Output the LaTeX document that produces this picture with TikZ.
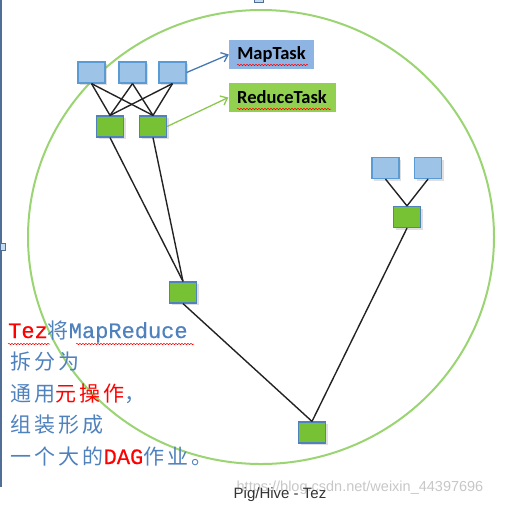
\documentclass[tikz,border=0pt]{standalone}
\usepackage{fontspec}
\setmainfont{Liberation Serif}
\newfontfamily\cjkf{Noto Sans CJK SC}[LetterSpace=15]
\newfontfamily\serf{Liberation Mono}[FakeBold=0.4]
\newfontfamily\lblf{Carlito}
\newfontfamily\capf{Liberation Sans}
\usetikzlibrary{positioning,arrows.meta,shadows,decorations.pathmorphing}
\definecolor{mapfill}{RGB}{157,195,230}
\definecolor{mapline}{RGB}{91,155,213}
\definecolor{rdcfill}{RGB}{118,194,52}
\definecolor{rdcline}{RGB}{79,129,189}
\definecolor{maplbl}{RGB}{141,180,226}
\definecolor{rdclbl}{RGB}{146,208,80}
\definecolor{ringgreen}{RGB}{155,212,115}
\definecolor{edgegray}{RGB}{35,35,35}
\definecolor{txtblue}{RGB}{79,129,189}
\definecolor{txtred}{RGB}{255,0,0}
\definecolor{arrblue}{RGB}{70,120,180}
\definecolor{arrgreen}{RGB}{140,200,80}
\definecolor{framecol}{RGB}{80,110,150}
\newcommand\zh[1]{{\fontsize{21}{24}\cjkf #1}}
\newcommand\en[1]{{\fontsize{22}{24}\serf #1}}
\begin{document}
\begin{tikzpicture}[
  x=1pt, y=-1pt,
  tsk/.style={draw, line width=1.2pt, minimum width=27pt, minimum height=21pt, inner sep=0pt,
              drop shadow={opacity=0.25, shadow xshift=2pt, shadow yshift=-2pt}},
  mapbox/.style={tsk, fill=mapfill, draw=mapline},
  rdcbox/.style={tsk, fill=rdcfill, draw=rdcline},
  lbl/.style={inner sep=0pt, minimum height=29pt, font=\lblf\bfseries\fontsize{18.5}{18.5}\selectfont},
  edge/.style={line width=1.4pt, draw=edgegray},
  arr/.style={-{Straight Barb[length=6pt,width=10pt]}, line width=1.3pt},
  txt/.style={anchor=base west, inner sep=0pt, text=txtblue},
  squig/.style={draw=red, line width=0.5pt, decorate, decoration={snake, segment length=3pt, amplitude=0.7pt}},
  handle/.style={draw=framecol, fill=mapfill!60, line width=0.5pt}
]
\useasboundingbox (0,0) rectangle (505,504);

\draw[framecol, line width=1.2pt] (1,0) -- (1,487);
\draw[handle] (0,243) rectangle (5,250);
\draw[handle] (254,-1) rectangle (263,2);

\draw[ringgreen, line width=2pt] (261,237) ellipse [x radius=233, y radius=227];

\node[mapbox] (m1) at (91.5,72.5) {};
\node[mapbox] (m2) at (132.5,72.5) {};
\node[mapbox] (m3) at (172.5,72.5) {};
\node[rdcbox] (r1) at (110,126.5) {};
\node[rdcbox] (r2) at (153,126.5) {};
\node[rdcbox] (r3) at (183,292.5) {};
\node[rdcbox] (r4) at (312,432.5) {};
\node[mapbox] (m4) at (385.5,168) {};
\node[mapbox] (m5) at (428,168) {};
\node[rdcbox] (r5) at (407,217) {};

\node[lbl, fill=maplbl, minimum width=85pt]  (maptask) at (271.5,54.5) {MapTask};
\node[lbl, fill=rdclbl, minimum width=107pt] (rdctask) at (282,97.5) {ReduceTask};

\foreach \a in {m1,m2,m3}
  \foreach \b in {r1,r2}
    \draw[edge] (\a.south) -- (\b.north);
\draw[edge] (r1.south) -- (r3.north);
\draw[edge] (r2.south) -- (r3.north);
\draw[edge] (r3.south) -- (r4.north);
\draw[edge] (m4.south) -- (r5.north);
\draw[edge] (m5.south) -- (r5.north);
\draw[edge] (r5.south) -- (r4.north);

\draw[arr, arrblue]  (m3.east) -- (maptask.west);
\draw[arr, arrgreen] (r2.east) -- (rdctask.west);

\draw[squig] (237,65) -- (308,65);
\draw[squig] (237,109) -- (331,109);

\node[txt] (l1) at (8,338)   {\en{\textcolor{txtred}{Tez}}\zh{将}\en{MapReduce}};
\node[txt] (l2) at (10,369.5) {\zh{拆分为}};
\node[txt] (l3) at (10,401)  {\zh{通用\textcolor{txtred}{元操作}，}};
\node[txt] (l4) at (10,432.5) {\zh{组装形成}};
\node[txt] (l5) at (10,464)  {\zh{一个大的}\en{\textcolor{txtred}{DAG}}\zh{作业。}};
\draw[squig] (8,344) -- (50,344);
\draw[squig] (76,344) -- (194,344);

\node[anchor=base, inner sep=0pt, text=black!22, font=\capf\fontsize{14.5}{14.5}\selectfont] (mark) at (360,491) {https://blog.csdn.net/weixin\_44397696};
\node[anchor=base, inner sep=0pt, text=black!80, font=\capf\fontsize{15}{15}\selectfont] (cap) at (280,498) {Pig/Hive - Tez};
\end{tikzpicture}
\end{document}
